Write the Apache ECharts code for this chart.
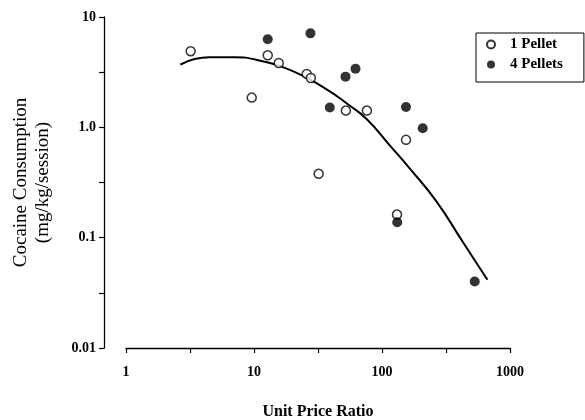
<!DOCTYPE html>
<html>
<head>
<meta charset="utf-8">
<script src="https://cdn.jsdelivr.net/npm/echarts@6/dist/echarts.min.js"></script>
<style>
  html, body { margin: 0; padding: 0; background: #fff; }
  #chart { width: 585px; height: 420px; }
</style>
</head>
<body>
<div id="chart"></div>
<script>
// values (unit price ratio vs. mg/kg/session)
var onePelletX = [3.2, 9.6, 12.8, 15.6, 25.8, 27.8, 32, 52.2, 76.2, 131, 154];
var onePelletY = [4.9, 1.86, 4.5, 3.83, 3.05, 2.8, 0.379, 1.42, 1.42, 0.162, 0.77];

var fourPelletX = [12.8, 27.6, 39.1, 51.9, 62.1, 154, 208, 131.6, 530];
var fourPelletY = [6.28, 7.11, 1.51, 2.88, 3.4, 1.53, 0.98, 0.138, 0.04];

var curveX = [2.66, 3.44, 4.5, 7.06, 10.4, 20.1, 36.9, 54.1, 75.8, 115, 165, 267, 432, 666];
var curveY = [3.70, 4.16, 4.31, 4.31, 4.1, 3.23, 2.21, 1.62, 1.19, 0.685, 0.423, 0.212, 0.0898, 0.0416];

var xTickValues = [1, 10, 100, 1000];
var xTickLabels = ['1', '10', '100', '1000'];
var yTickValues = [0.01, 0.1, 1, 10];
var yTickLabels = ['0.01', '0.1', '1.0', '10'];

function pairs(xs, ys) {
  return xs.map(function (x, i) { return [x, ys[i]]; });
}

// tick marks at every half decade, as in the original figure
function halfDecades(vals) {
  var out = [];
  vals.forEach(function (v, i) {
    out.push(v);
    if (i < vals.length - 1) out.push(v * Math.sqrt(10));
  });
  return out;
}

function labelFor(vals, labels) {
  return function (v) {
    for (var i = 0; i < vals.length; i++) {
      if (Math.abs(Math.log10(v) - Math.log10(vals[i])) < 1e-6) return labels[i];
    }
    return '';
  };
}

var font = 'Liberation Serif';
var chart = echarts.init(document.getElementById('chart'), null, { renderer: 'canvas' });

var option = {
  backgroundColor: '#fff',
  animation: false,
  grid: { left: 126, right: 75, top: 17, bottom: 72, outerBoundsMode: 'none', containLabel: false },
  legend: {
    left: 476,
    top: 33,
    orient: 'vertical',
    borderColor: '#000',
    borderWidth: 1,
    padding: [4, 21, 10, 10],
    itemGap: 5,
    itemWidth: 8,
    itemHeight: 8,
    itemTextGap: 5,
    textStyle: { fontFamily: font, fontWeight: 'bold', fontSize: 15, color: '#000', padding: [0, 0, 0, 10] },
    data: ['1 Pellet', '4 Pellets']
  },
  xAxis: {
    type: 'log',
    logBase: 10,
    min: 1,
    max: 1000,
    name: 'Unit Price Ratio',
    nameLocation: 'middle',
    nameGap: 56,
    nameTextStyle: { fontFamily: font, fontWeight: 'bold', fontSize: 16, color: '#000' },
    axisLine: { lineStyle: { color: '#000', width: 1.3 } },
    axisTick: { length: 5, customValues: halfDecades(xTickValues), lineStyle: { color: '#000', width: 1.2 } },
    splitLine: { show: false },
    axisLabel: {
      margin: 17,
      customValues: xTickValues,
      fontFamily: font, fontWeight: 'bold', fontSize: 14, color: '#000',
      formatter: labelFor(xTickValues, xTickLabels)
    }
  },
  yAxis: {
    type: 'log',
    logBase: 10,
    min: 0.01,
    max: 10,
    offset: 22,
    name: 'Cocaine Consumption\n(mg/kg/session)',
    nameLocation: 'middle',
    nameRotate: 90,
    nameGap: 50,
    nameTextStyle: { fontFamily: font, fontSize: 19, lineHeight: 22, color: '#000' },
    axisLine: { lineStyle: { color: '#000', width: 1.3 } },
    axisTick: { length: 5, customValues: halfDecades(yTickValues), lineStyle: { color: '#000', width: 1.2 } },
    splitLine: { show: false },
    axisLabel: {
      margin: 8,
      customValues: yTickValues,
      fontFamily: font, fontWeight: 'bold', fontSize: 14, color: '#000',
      formatter: labelFor(yTickValues, yTickLabels)
    }
  },
  series: [
    {
      name: 'fit',
      type: 'line',
      data: pairs(curveX, curveY),
      smooth: true,
      showSymbol: false,
      lineStyle: { color: '#000', width: 2 },
      z: 1
    },
    {
      name: '1 Pellet',
      type: 'scatter',
      data: pairs(onePelletX, onePelletY),
      symbol: 'circle',
      symbolSize: 9,
      itemStyle: { color: '#fff', borderColor: '#000', borderWidth: 1.5 },
      z: 2
    },
    {
      name: '4 Pellets',
      type: 'scatter',
      data: pairs(fourPelletX, fourPelletY),
      symbol: 'circle',
      symbolSize: 10,
      itemStyle: { color: '#000' },
      z: 3
    }
  ]
};

chart.setOption(option);
</script>
</body>
</html>
